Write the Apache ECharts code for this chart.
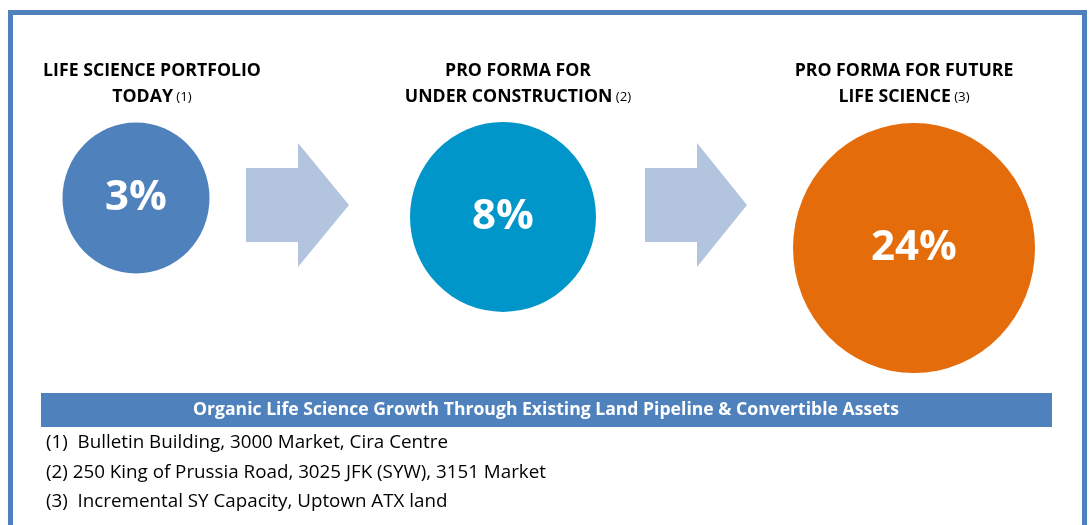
<!DOCTYPE html>
<html>
<head>
<meta charset="utf-8">
<script src="https://cdn.jsdelivr.net/npm/echarts@6/dist/echarts.min.js"></script>
<style>
html,body{margin:0;padding:0;background:#fff;}
#chart{width:1090px;height:525px;}
</style>
</head>
<body>
<div id="chart"></div>
<script>
// ---- data ----
var titleLines = [
  ['LIFE SCIENCE PORTFOLIO', 'TODAY'],
  ['PRO FORMA FOR', 'UNDER CONSTRUCTION'],
  ['PRO FORMA FOR FUTURE', 'LIFE SCIENCE']
];
var noteRefs = ['(1)', '(2)', '(3)'];
var categories = ['Life Science Portfolio Today', 'Pro Forma for Under Construction', 'Pro Forma for Future Life Science'];
var values = [3, 8, 24];
var bannerText = 'Organic Life Science Growth Through Existing Land Pipeline & Convertible Assets';
var footnotes = [
  '(1)  Bulletin Building, 3000 Market, Cira Centre',
  '(2) 250 King of Prussia Road, 3025 JFK (SYW), 3151 Market',
  '(3)  Incremental SY Capacity, Uptown ATX land'
];

// ---- styles ----
var colors = ['#4F81BD', '#0096C9', '#E46C0A'];
var bubbleSize = [[147, 151], [186, 190], [242, 250]];
var bubbleOffset = [[7, 0], [-15, 7], [7, 0]];
var titleCenterX = [152, 518, 904];
var FONT = '"Open Sans", Lato, sans-serif';

var chart = echarts.init(document.getElementById('chart'), null, {renderer: 'canvas'});

var graphics = [];
// frame
graphics.push({type: 'rect', shape: {x: 10.5, y: 12.5, width: 1074, height: 600},
  style: {fill: 'none', stroke: '#4F81BD', lineWidth: 5}, silent: true});
// arrows
function arrow(x0, xh, xt, yb0, yb1, yh0, yh1) {
  var ym = (yh0 + yh1) / 2;
  return {type: 'polygon', silent: true,
    shape: {points: [[x0, yb0], [xh, yb0], [xh, yh0], [xt, ym], [xh, yh1], [xh, yb1], [x0, yb1]]},
    style: {fill: '#B3C4DF'}};
}
graphics.push(arrow(246, 298, 349, 168, 242, 143, 267));
graphics.push(arrow(645, 697, 747, 168, 242, 143, 267));
// titles
titleLines.forEach(function (lines, i) {
  graphics.push({type: 'text', silent: true, x: titleCenterX[i], y: 58,
    style: {text: '{b|' + lines[0] + '}\n{b|' + lines[1] + '} {s|' + noteRefs[i] + '}',
      align: 'center', verticalAlign: 'top', fill: '#000',
      rich: {
        b: {fontFamily: FONT, fontWeight: 'bold', fontSize: 17.7, lineHeight: 26, fill: '#000'},
        s: {fontFamily: FONT, fontSize: 13.3, lineHeight: 26, fill: '#000'}
      }}});
});
// banner
graphics.push({type: 'rect', silent: true, shape: {x: 41, y: 393, width: 1011, height: 34},
  style: {fill: '#4F81BD'}});
graphics.push({type: 'text', silent: true, x: 546, y: 410,
  style: {text: bannerText, align: 'center', verticalAlign: 'middle', fill: '#fff',
    fontFamily: FONT, fontWeight: 'bold', fontSize: 17.6}});
// footnotes
footnotes.forEach(function (t, i) {
  graphics.push({type: 'text', silent: true, x: 46, y: 443 + i * 29.5,
    style: {text: t, align: 'left', verticalAlign: 'middle', fill: '#000',
      fontFamily: FONT, fontSize: 18.8}});
});

chart.setOption({
  animation: false,
  grid: {left: 129, right: 183, top: 190.9, bottom: 96},
  xAxis: {type: 'category', data: categories, boundaryGap: false, show: false},
  yAxis: {type: 'value', min: 0, max: 100, inverse: true, show: false},
  series: [{
    type: 'scatter',
    silent: true,
    data: values.map(function (v, i) {
      return {value: v, symbolSize: bubbleSize[i], symbolOffset: bubbleOffset[i],
        itemStyle: {color: colors[i], opacity: 1}};
    }),
    label: {show: true, position: 'inside', color: '#fff', fontFamily: FONT,
      fontWeight: 'bold', fontSize: 42,
      formatter: function (p) { return p.value + '%'; }}
  }],
  graphic: graphics
});
</script>
</body>
</html>
